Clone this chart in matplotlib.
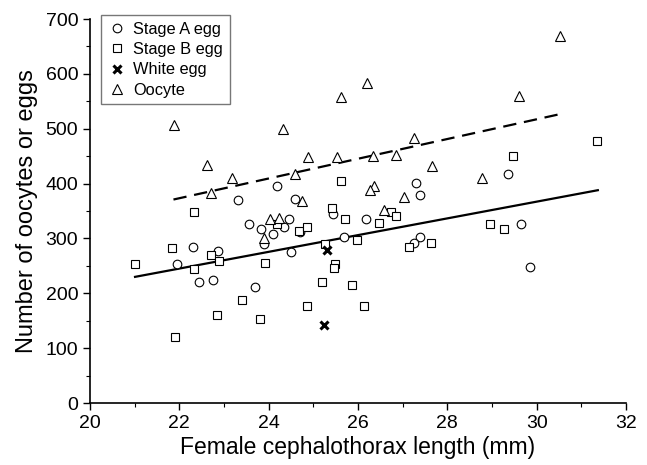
import matplotlib
matplotlib.use("Agg")
import matplotlib.pyplot as plt
from matplotlib.ticker import MultipleLocator

plt.rcParams["font.family"] = ["Liberation Sans", "DejaVu Sans"]

# Stage A eggs (circles)
stage_a_len = [24.18, 23.32, 24.59, 23.57, 23.84, 24.46, 24.35, 24.10, 23.90,
               22.31, 22.87, 21.96, 24.50, 22.45, 22.75, 23.69, 25.45, 25.69,
               26.19, 24.70, 27.30, 27.39, 27.39, 27.25, 29.36, 29.66, 29.85]
stage_a_n = [396, 371, 372, 326, 317, 335, 321, 308, 289,
             285, 277, 254, 276, 220, 225, 212, 344, 302,
             336, 312, 402, 379, 302, 291, 418, 326, 248]

# Stage B eggs (squares)
stage_b_len = [22.34, 21.83, 21.01, 22.72, 22.89, 22.34, 23.92, 23.40, 22.84,
               23.81, 21.90, 24.19, 24.68, 24.86, 25.62, 25.42, 25.71, 25.97,
               25.26, 25.48, 25.46, 25.19, 25.87, 24.86, 26.13, 26.74, 26.85,
               26.48, 27.14, 27.63, 28.96, 29.28, 29.48, 31.36]
stage_b_n = [349, 283, 254, 270, 259, 245, 256, 188, 160,
             153, 120, 327, 313, 320, 405, 355, 335, 297,
             290, 253, 247, 220, 216, 176, 177, 349, 341,
             329, 284, 292, 326, 318, 451, 478]

# White eggs (crosses)
white_len = [25.31, 25.23]
white_n = [279, 142]

# Oocytes (triangles)
oocyte_len = [21.88, 22.61, 22.70, 23.17, 24.33, 24.03, 24.23, 23.90, 24.59,
              24.74, 24.89, 25.54, 25.62, 26.20, 26.34, 26.86, 26.37, 26.27,
              26.59, 27.04, 27.26, 27.65, 28.78, 29.60, 30.53]
oocyte_n = [506, 434, 382, 411, 500, 335, 338, 300, 417,
            368, 448, 448, 558, 583, 450, 453, 396, 388,
            351, 375, 484, 432, 411, 560, 670]

# fitted lines (end points)
egg_fit_x = [21.01, 31.37]
egg_fit_y = [230, 388]
oocyte_fit_x = [21.87, 30.54]
oocyte_fit_y = [371, 527]

fig = plt.figure(figsize=(6.47, 4.65), dpi=100)
ax = fig.add_axes([0.139, 0.1333, 0.8285, 0.8257])

mkw = dict(linestyle="none", markerfacecolor="white", markeredgecolor="black",
           markeredgewidth=0.8, zorder=3)
ax.plot(stage_a_len, stage_a_n, marker="o", markersize=6.2, label="Stage A egg", **mkw)
ax.plot(stage_b_len, stage_b_n, marker="s", markersize=5.8, label="Stage B egg", **mkw)
ax.plot(white_len, white_n, marker="x", markersize=6, markeredgewidth=2.2,
        color="black", linestyle="none", label="White egg", zorder=4)
ax.plot(oocyte_len, oocyte_n, marker="^", markersize=6.5, label="Oocyte", **mkw)

ax.plot(egg_fit_x, egg_fit_y, color="black", linewidth=1.6, zorder=2)
ax.plot(oocyte_fit_x, oocyte_fit_y, color="black", linewidth=1.6,
        dashes=(6, 3.5), zorder=2)

ax.set_xlim(20, 32)
ax.set_ylim(0, 700)
ax.xaxis.set_major_locator(MultipleLocator(2))
ax.xaxis.set_minor_locator(MultipleLocator(1))
ax.yaxis.set_major_locator(MultipleLocator(100))
ax.yaxis.set_minor_locator(MultipleLocator(50))
ax.tick_params(which="major", direction="out", length=5, width=1, labelsize=14)
ax.tick_params(which="minor", direction="out", length=3, width=0.8)
for side in ["top", "right"]:
    ax.spines[side].set_visible(False)
for side in ["left", "bottom"]:
    ax.spines[side].set_linewidth(1.2)

ax.set_xlabel("Female cephalothorax length (mm)", fontsize=16.5, labelpad=3)
ax.set_ylabel("Number of oocytes or eggs", fontsize=17, labelpad=5)

leg = ax.legend(loc="upper left", bbox_to_anchor=(0.02, 1.01), borderaxespad=0,
                fontsize=11.8, fancybox=False, framealpha=1, edgecolor="#777777",
                handletextpad=0.4, handlelength=1.2, labelspacing=0.32,
                borderpad=0.4)
leg.get_frame().set_linewidth(1.0)

fig.savefig("out.png", dpi=100)
